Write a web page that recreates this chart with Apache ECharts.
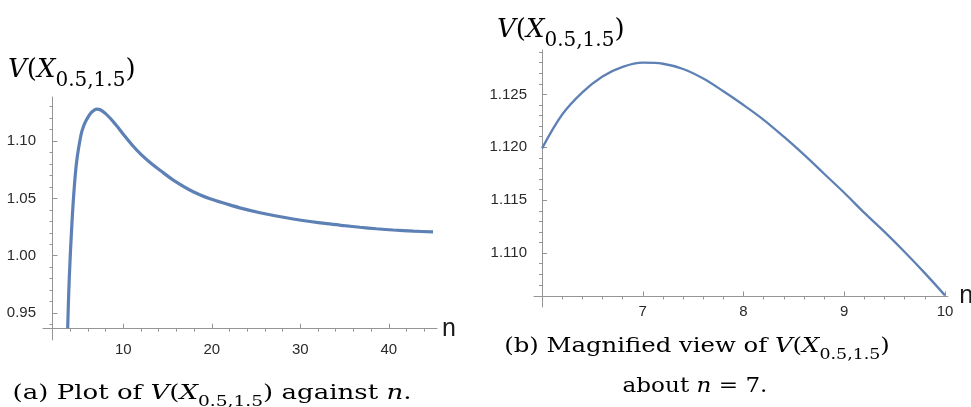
<!DOCTYPE html>
<html><head><meta charset="utf-8">
<script src="https://cdn.jsdelivr.net/npm/echarts@6/dist/echarts.min.js"></script>
<style>html,body{margin:0;padding:0;background:#fff}#c{width:971px;height:407px}</style>
</head><body><div id="c"></div>
<script>
// ---- Panel (a): V(X_{0.5,1.5}) against n ----
const nFull = [3.72, 3.83, 3.98, 4.17, 4.40, 4.73, 5.22, 5.5, 5.86, 6.4, 7.0, 7.4, 8.0, 8.5, 9.0, 9.5, 10, 11, 12, 13.2, 14.15, 15.65, 17.9, 19.8, 21.7, 23.5, 25.45, 27.3, 29.2, 31.1, 33.0, 35, 36.75, 38.6, 40.5, 42.8, 45.0];
const vFull = [0.9366, 0.9657, 0.9948, 1.024, 1.053, 1.082, 1.1053, 1.1128, 1.1188, 1.1250, 1.128, 1.1274, 1.124, 1.1202, 1.1157, 1.1111, 1.106, 1.0966, 1.0884, 1.0802, 1.0746, 1.066, 1.0558, 1.0497, 1.0451, 1.0411, 1.0375, 1.0346, 1.032, 1.0298, 1.0279, 1.0262, 1.0248, 1.0235, 1.0224, 1.0214, 1.0207];
// ---- Panel (b): magnified view about n = 7 ----
const nZoom = [6.0, 6.2, 6.4, 6.6, 6.8, 7.0, 7.2, 7.4, 7.6, 7.8, 8.0, 8.2, 8.4, 8.6, 8.8, 9.0, 9.2, 9.4, 9.6, 9.8, 10.0];
const vZoom = [1.1199, 1.1231, 1.1252, 1.1267, 1.1276, 1.1280, 1.1279, 1.1274, 1.1265, 1.1253, 1.1240, 1.1226, 1.1210, 1.1193, 1.1175, 1.1157, 1.1138, 1.1120, 1.1101, 1.1081, 1.1060];
// ---- tick values ----
const xMajorA = [10, 20, 30, 40];
const xMinorA = [4, 6, 8, 12, 14, 16, 18, 22, 24, 26, 28, 32, 34, 36, 38, 42, 44];
const yMajorA = [0.95, 1.00, 1.05, 1.10];
const yMinorA = [0.94, 0.96, 0.97, 0.98, 0.99, 1.01, 1.02, 1.03, 1.04, 1.06, 1.07, 1.08, 1.09, 1.11, 1.12, 1.13];
const xMajorB = [7, 8, 9, 10];
const xMinorB = [6.2, 6.4, 6.6, 6.8, 7.2, 7.4, 7.6, 7.8, 8.2, 8.4, 8.6, 8.8, 9.2, 9.4, 9.6, 9.8];
const yMajorB = [1.110, 1.115, 1.120, 1.125];
const yMinorB = [1.107, 1.108, 1.109, 1.111, 1.112, 1.113, 1.114, 1.116, 1.117, 1.118, 1.119, 1.121, 1.122, 1.123, 1.124, 1.126, 1.127, 1.128, 1.129];
// ---- texts ----
const xName = 'n';

// ---- axis frames (where axes cross) ----
const A = {xmin: 0.93, xmax: 45.45, xCross: 2, ymin: 0.9264, ymax: 1.1385, yCross: 0.9363};
const B = {xmin: 5.92, xmax: 10.03, xCross: 6, ymin: 1.1049, ymax: 1.1292, yCross: 1.1059};

const AX = '#959595';
const LBL = {color: '#2a2a2a', fontSize: 15, fontFamily: 'Liberation Sans, Arial, sans-serif'};
const LINE = '#5e81b5';

function xAxes(g, F, major, minor, auxY, margin, nameGap) {
  return [
    {type: 'value', gridIndex: g, min: F.xmin, max: F.xmax, name: xName, nameLocation: 'end', nameGap: nameGap,
     nameTextStyle: {fontSize: 25, color: '#1a1a1a', fontFamily: 'Liberation Sans, Arial, sans-serif'},
     axisLine: {show: true, onZero: true, onZeroAxisIndex: auxY, lineStyle: {color: AX, width: 1}},
     axisTick: {show: true, inside: true, length: 5, customValues: major, lineStyle: {color: AX}},
     axisLabel: Object.assign({show: true, margin: margin, customValues: major, formatter: v => String(Math.round(v))}, LBL),
     splitLine: {show: false}},
    {type: 'value', gridIndex: g, min: F.xmin, max: F.xmax,
     axisLine: {show: false, onZero: true, onZeroAxisIndex: auxY},
     axisTick: {show: true, inside: true, length: 3, customValues: minor, lineStyle: {color: AX}},
     axisLabel: {show: false}, splitLine: {show: false}},
    {type: 'value', gridIndex: g, show: false, min: F.xmin - F.xCross, max: F.xmax - F.xCross,
     axisLine: {onZero: false}, splitLine: {show: false}}
  ];
}
function yAxes(g, F, major, minor, auxX, dec, margin) {
  return [
    {type: 'value', gridIndex: g, min: F.ymin, max: F.ymax,
     axisLine: {show: true, onZero: true, onZeroAxisIndex: auxX, lineStyle: {color: AX, width: 1}},
     axisTick: {show: true, inside: true, length: 5, customValues: major, lineStyle: {color: AX}},
     axisLabel: Object.assign({show: true, margin: margin, customValues: major, formatter: v => v.toFixed(dec)}, LBL),
     splitLine: {show: false}},
    {type: 'value', gridIndex: g, min: F.ymin, max: F.ymax,
     axisLine: {show: false, onZero: true, onZeroAxisIndex: auxX},
     axisTick: {show: true, inside: true, length: 3, customValues: minor, lineStyle: {color: AX}},
     axisLabel: {show: false}, splitLine: {show: false}},
    {type: 'value', gridIndex: g, show: false, min: F.ymin - F.yCross, max: F.ymax - F.yCross,
     axisLine: {onZero: false}, splitLine: {show: false}}
  ];
}

const CF = 'DejaVu Serif, serif';
const capRich = {
  r: {fontFamily: CF, fontSize: 21, lineHeight: 25, verticalAlign: 'top', color: '#111'},
  i: {fontFamily: CF, fontStyle: 'italic', fontSize: 21, lineHeight: 25, verticalAlign: 'top', color: '#111'},
  s: {fontFamily: CF, fontSize: 15, lineHeight: 15, padding: [12, 0, 0, 0], verticalAlign: 'top', color: '#111'}
};
const titleRich = {
  i: {fontFamily: CF, fontStyle: 'italic', fontSize: 26, lineHeight: 30, verticalAlign: 'top', color: '#1a1a1a'},
  r: {fontFamily: CF, fontSize: 26, lineHeight: 30, verticalAlign: 'top', color: '#1a1a1a'},
  s: {fontFamily: CF, fontSize: 20, lineHeight: 20, padding: [14, 0, 0, 0], verticalAlign: 'top', color: '#1a1a1a'}
};
const titleText = '{i|V}{r|(}{i|X}{s|0.5,1.5}{r|)}';
function caption(x, y, text, sx) {
  return {type: 'text', x: x, y: y, scaleX: sx, style: {text: text, rich: capRich, align: 'center', verticalAlign: 'top', textAlign: 'center', textVerticalAlign: 'top'}};
}

const chart = echarts.init(document.getElementById('c'), null, {renderer: 'canvas'});
chart.setOption({
  animation: false,
  backgroundColor: '#fff',
  grid: [
    {left: 43, top: 97, width: 394, height: 243, outerBoundsMode: 'none', containLabel: false},
    {left: 534, top: 50, width: 414, height: 257, outerBoundsMode: 'none', containLabel: false}
  ],
  xAxis: [].concat(xAxes(0, A, xMajorA, xMinorA, 2, 2, 5), xAxes(1, B, xMajorB, xMinorB, 5, -3, 8)),
  yAxis: [].concat(yAxes(0, A, yMajorA, yMinorA, 2, 2, 7), yAxes(1, B, yMajorB, yMinorB, 5, 3, 7)),
  series: [
    {type: 'line', xAxisIndex: 0, yAxisIndex: 0, data: nFull.map((n, i) => [n, vFull[i]]),
     showSymbol: false, smooth: 0.35, lineStyle: {color: LINE, width: 3.2}, clip: true},
    {type: 'line', xAxisIndex: 3, yAxisIndex: 3, data: nZoom.map((n, i) => [n, vZoom[i]]),
     showSymbol: false, smooth: 0.35, lineStyle: {color: LINE, width: 2.3}, clip: true}
  ],
  graphic: [
    {type: 'text', left: 8, top: 57, style: {text: titleText, rich: titleRich}},
    {type: 'text', left: 497, top: 17, style: {text: titleText, rich: titleRich}},
    caption(212, 383, '{r|(a) Plot of }{i|V}{r|(}{i|X}{s|0.5,1.5}{r|) against }{i|n}{r|.}', 1.24),
    caption(697, 336, '{r|(b) Magnified view of }{i|V}{r|(}{i|X}{s|0.5,1.5}{r|)}', 1.16),
    caption(695, 376, '{r|about }{i|n}{r| = 7.}', 1.10)
  ]
});
</script></body></html>
